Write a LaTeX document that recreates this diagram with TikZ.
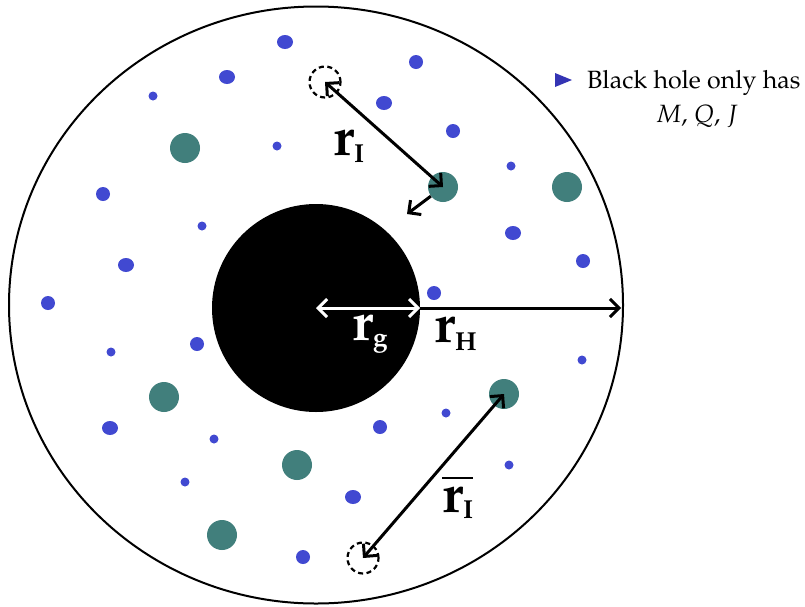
\documentclass[tikz,border=0pt]{standalone}
\usepackage[T1]{fontenc}
\usepackage{mathpazo}
\usetikzlibrary{arrows.meta,shapes.geometric}
\definecolor{dotblue}{HTML}{4149D1}
\definecolor{dotteal}{HTML}{417F7C}
\definecolor{triblue}{HTML}{3434B4}
\begin{document}
\begin{tikzpicture}[x=1pt,y=-1pt,
  bdot/.style={ellipse,fill=dotblue,inner sep=0,minimum width=16pt,minimum height=14pt},
  mdot/.style={circle,fill=dotblue,inner sep=0,minimum size=14pt},
  sdot/.style={circle,fill=dotblue,inner sep=0,minimum size=9pt},
  tdot/.style={circle,fill=dotteal,inner sep=0,minimum size=30pt},
  ghost/.style={circle,draw,line width=2.2pt,dash pattern=on 5pt off 3.5pt,inner sep=0,minimum size=31pt},
  arr/.style={line width=3pt,-{Straight Barb[length=9pt,width=18pt]}},
  darr/.style={line width=3pt,{Straight Barb[length=9pt,width=18pt]}-{Straight Barb[length=9pt,width=18pt]}},
  lab/.style={inner sep=0,anchor=base west,font=\fontsize{54}{54}\selectfont\bfseries},
  legend/.style={inner sep=0,font=\fontsize{25}{29}\selectfont}
]
\useasboundingbox (0,0) rectangle (805,606);
\fill[white] (0,0) rectangle (805,606);
% outer region and black hole
\node[ellipse,draw,line width=2pt,minimum width=614pt,minimum height=597pt,inner sep=0] (outer) at (316,305) {};
\node[circle,fill=black,minimum size=208pt,inner sep=0] (bh) at (316,308) {};
% large blue (elliptic) dots
\node[bdot] (b1) at (285,42) {};
\node[bdot] (b2) at (227,77) {};
\node[bdot] (b3) at (384,103) {};
\node[bdot] (b4) at (126,265) {};
\node[bdot] (b5) at (110,428) {};
\node[bdot] (b6) at (513,233) {};
\node[bdot] (b7) at (353,497) {};
% medium blue dots
\node[mdot] (m1) at (416,62) {};
\node[mdot] (m2) at (453,131) {};
\node[mdot] (m3) at (103,194) {};
\node[mdot] (m4) at (48,303) {};
\node[mdot] (m5) at (583,261) {};
\node[mdot] (m6) at (434,293) {};
\node[mdot] (m7) at (197,344) {};
\node[mdot] (m8) at (303,557) {};
\node[mdot] (m9) at (380,427) {};
% small blue dots
\node[sdot] (s1) at (153,96) {};
\node[sdot] (s2) at (277,146) {};
\node[sdot] (s3) at (202,226) {};
\node[sdot] (s4) at (511,166) {};
\node[sdot] (s5) at (111,352) {};
\node[sdot] (s6) at (214,439) {};
\node[sdot] (s7) at (185,482) {};
\node[sdot] (s8) at (582,360) {};
\node[sdot] (s9) at (446,413) {};
\node[sdot] (s10) at (509,465) {};
% teal dots
\node[tdot] (t1) at (185,148) {};
\node[tdot] (t2) at (443,187) {};
\node[tdot] (t3) at (567,187) {};
\node[tdot] (t4) at (164,397) {};
\node[tdot] (t5) at (297,465) {};
\node[tdot] (t6) at (222,535) {};
\node[tdot] (t7) at (504,394) {};
% dashed image positions
\node[ghost] (g1) at (325,82) {};
\node[ghost] (g2) at (363,558) {};
% arrows
\coordinate (esc) at (407,214);
\coordinate (hend) at (621,308);
\draw[darr] (g1.center) -- (t2.center);
\draw[arr] (t2) -- (esc);
\draw[darr] (t7.center) -- (g2.center);
\draw[darr,white] (bh.center) -- (bh.east);
\draw[arr] (bh.east) -- (hend);
% labels
\node[lab] (lrI) at (333,155) {r\raisebox{-7pt}{\fontsize{26}{26}\selectfont I}};
\node[lab,text=white] (lrg) at (352,340) {r\raisebox{-6pt}{\fontsize{26}{26}\selectfont g}};
\node[lab] (lrH) at (434,342) {r\raisebox{-8pt}{\fontsize{26}{26}\selectfont H}};
\node[lab] (lrbar) at (442,512) {$\overline{\hbox{r\raisebox{-6pt}{\fontsize{26}{26}\selectfont I}}}$};
% legend
\fill[triblue] (555,73) -- (572,80) -- (555,87) -- cycle;
\node[legend,anchor=base west] (leg1) at (587,88) {Black hole only has};
\node[legend,anchor=base] (leg2) at (697,122) {$M$, $Q$, $J$};
\end{tikzpicture}
\end{document}
